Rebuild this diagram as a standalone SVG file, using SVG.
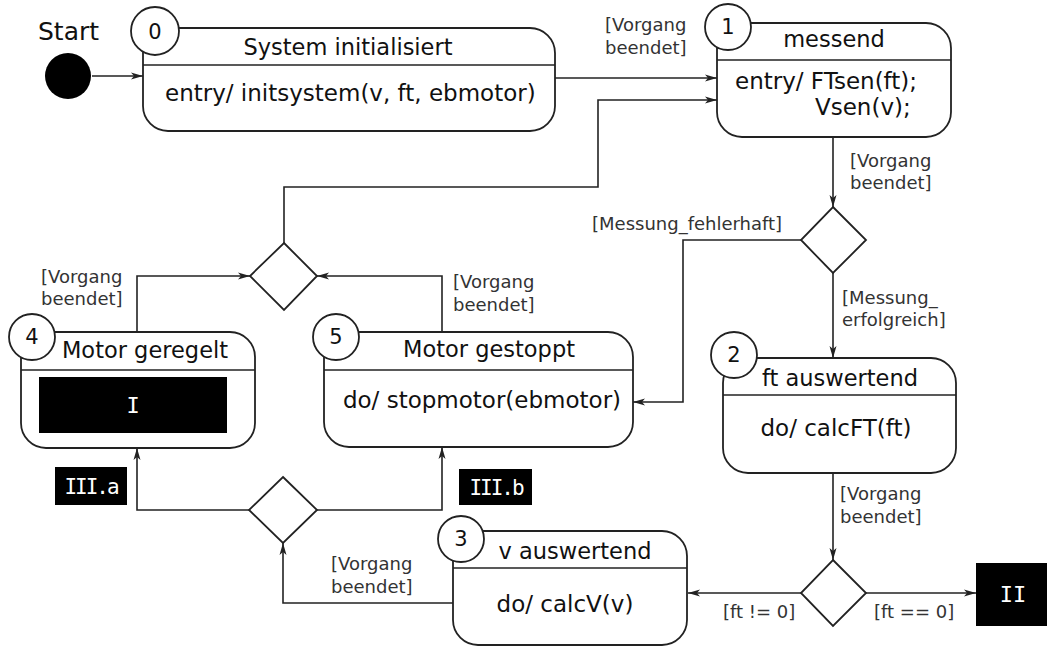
<svg xmlns="http://www.w3.org/2000/svg" width="1047" height="647" viewBox="0 0 1047 647">
<style>
.st{fill:#fff;stroke:#222;stroke-width:1.8}
.ln{fill:none;stroke:#222;stroke-width:1.6}
.t{font-family:"DejaVu Sans",Verdana,sans-serif;font-size:23px;fill:#111}
.ti{font-size:22.5px}
.n{font-family:"DejaVu Sans",Verdana,sans-serif;font-size:21px;fill:#111;text-anchor:middle}
.lb{font-family:"DejaVu Sans",Verdana,sans-serif;font-size:18px;fill:#333}
.bx{fill:#000}
.w{font-family:"DejaVu Sans Mono",monospace;font-size:22px;fill:#fff;text-anchor:middle}
.r{font-size:21px;letter-spacing:-2px}
.m{text-anchor:middle}
</style>
<defs>
<marker id="ar" viewBox="0 0 12 8" refX="12" refY="4" markerWidth="12" markerHeight="8" markerUnits="userSpaceOnUse" orient="auto">
<path d="M0,0.5 L12,4 L0,7.5 L3,4 Z" fill="#222"/>
</marker>
</defs>

<g id="connectors">
<path class="ln" d="M92,76 H143" marker-end="url(#ar)"/>
<path class="ln" d="M555,78 H717" marker-end="url(#ar)"/>
<path class="ln" d="M284,243 V187 H598 V100 H717" marker-end="url(#ar)"/>
<path class="ln" d="M833,137 V207" marker-end="url(#ar)"/>
<path class="ln" d="M801,240 H683 V402 H633" marker-end="url(#ar)"/>
<path class="ln" d="M833,273 V358" marker-end="url(#ar)"/>
<path class="ln" d="M833,473 V560" marker-end="url(#ar)"/>
<path class="ln" d="M801,593 H688" marker-end="url(#ar)"/>
<path class="ln" d="M866,593 H976" marker-end="url(#ar)"/>
<path class="ln" d="M453,603 H283 V543" marker-end="url(#ar)"/>
<path class="ln" d="M249,510 H137 V448" marker-end="url(#ar)"/>
<path class="ln" d="M317,510 H442 V447" marker-end="url(#ar)"/>
<path class="ln" d="M137,332 V276 H250" marker-end="url(#ar)"/>
<path class="ln" d="M442,332 V276 H317" marker-end="url(#ar)"/>
<text class="lb" x="605" y="31">[Vorgang</text>
<text class="lb" x="605" y="54">beendet]</text>
<text class="lb" x="850" y="167">[Vorgang</text>
<text class="lb" x="850" y="189">beendet]</text>
<text class="lb" x="592" y="230">[Messung_fehlerhaft]</text>
<text class="lb" x="842" y="304">[Messung_</text>
<text class="lb" x="842" y="326">erfolgreich]</text>
<text class="lb" x="840" y="500">[Vorgang</text>
<text class="lb" x="840" y="523">beendet]</text>
<text class="lb" x="723" y="618">[ft != 0]</text>
<text class="lb" x="874" y="618">[ft == 0]</text>
<text class="lb" x="331" y="570">[Vorgang</text>
<text class="lb" x="331" y="593">beendet]</text>
<text class="lb" x="41" y="283">[Vorgang</text>
<text class="lb" x="41" y="305">beendet]</text>
<text class="lb" x="453" y="288">[Vorgang</text>
<text class="lb" x="453" y="311">beendet]</text>
</g>

<g id="start">
<text class="t" x="38" y="40" style="font-size:25px">Start</text>
<circle cx="68" cy="76" r="23" fill="#000"/>
</g>

<g id="state0">
<rect class="st" x="143" y="28" width="412" height="103" rx="25"/>
<line class="ln" x1="143" y1="65" x2="555" y2="65"/>
<circle class="st" cx="155" cy="31" r="24"/>
<text class="n" x="155" y="39">0</text>
<text class="t ti m" x="348" y="55">System initialisiert</text>
<text class="t" x="165" y="101">entry/ initsystem(v, ft, ebmotor)</text>
</g>

<g id="state1">
<rect class="st" x="717" y="23" width="234" height="114" rx="25"/>
<line class="ln" x1="717" y1="60" x2="951" y2="60"/>
<circle class="st" cx="728" cy="27" r="23"/>
<text class="n" x="728" y="34">1</text>
<text class="t ti m" x="834" y="47">messend</text>
<text class="t" x="735" y="89">entry/ FTsen(ft);</text>
<text class="t" x="815" y="115">Vsen(v);</text>
</g>

<g id="decision1">
<polygon class="st" points="833,207 866,240 833,273 801,240"/>
</g>

<g id="state2">
<rect class="st" x="723" y="358" width="233" height="115" rx="25"/>
<line class="ln" x1="723" y1="395" x2="956" y2="395"/>
<circle class="st" cx="734" cy="355" r="23"/>
<text class="n" x="734" y="362">2</text>
<text class="t ti m" x="840" y="386">ft auswertend</text>
<text class="t m" x="836" y="436">do/ calcFT(ft)</text>
</g>

<g id="decision2">
<polygon class="st" points="833,560 866,593 833,626 801,593"/>
</g>

<g id="II">
<rect class="bx" x="976" y="563" width="71" height="63"/>
<text class="w" x="1013" y="602">II</text>
</g>

<g id="state3">
<rect class="st" x="453" y="531" width="234" height="114" rx="25"/>
<line class="ln" x1="453" y1="568" x2="687" y2="568"/>
<circle class="st" cx="461" cy="539" r="23"/>
<text class="n" x="461" y="546">3</text>
<text class="t ti m" x="575" y="559">v auswertend</text>
<text class="t m" x="565" y="612">do/ calcV(v)</text>
</g>

<g id="decision3">
<polygon class="st" points="283,477 317,510 283,543 249,510"/>
</g>

<g id="state4">
<rect class="st" x="21" y="332" width="234" height="116" rx="25"/>
<line class="ln" x1="21" y1="370" x2="255" y2="370"/>
<circle class="st" cx="32" cy="337" r="23"/>
<text class="n" x="32" y="344">4</text>
<text class="t ti m" x="145" y="358">Motor geregelt</text>
<rect class="bx" x="39" y="377" width="188" height="56"/>
<text class="w" x="133" y="413">I</text>
</g>

<g id="IIIa">
<rect class="bx" x="55" y="467" width="72" height="38"/>
<text class="w r" x="91" y="494">III.a</text>
</g>

<g id="state5">
<rect class="st" x="324" y="332" width="309" height="115" rx="25"/>
<line class="ln" x1="324" y1="370" x2="633" y2="370"/>
<circle class="st" cx="336" cy="337" r="23"/>
<text class="n" x="336" y="344">5</text>
<text class="t ti m" x="489" y="357">Motor gestoppt</text>
<text class="t m" x="482" y="408">do/ stopmotor(ebmotor)</text>
</g>

<g id="IIIb">
<rect class="bx" x="459" y="469" width="73" height="36"/>
<text class="w r" x="496" y="495">III.b</text>
</g>

<g id="decision4">
<polygon class="st" points="284,243 317,276 284,310 250,276"/>
</g>
</svg>
